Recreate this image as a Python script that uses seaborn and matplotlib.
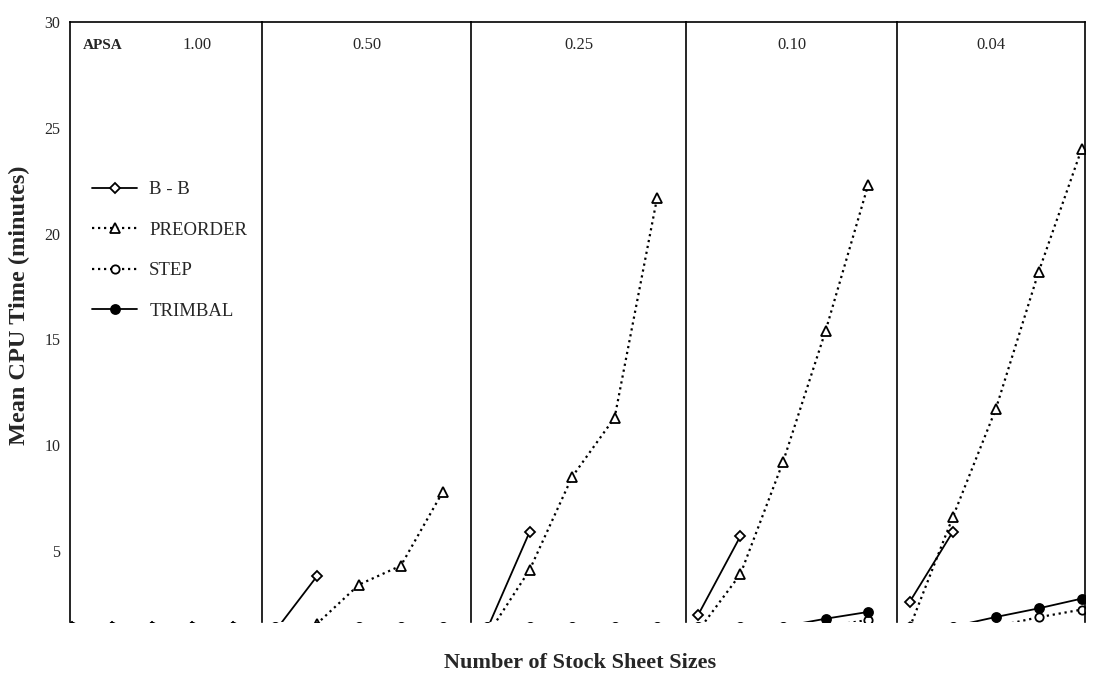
import numpy as np
import pandas as pd
import matplotlib
matplotlib.use("Agg")
import matplotlib.pyplot as plt
import seaborn as sns
from matplotlib.lines import Line2D

# --- data (minutes) ---
nan = np.nan
sheet_sizes = [1, 2, 3, 4, 5]
apsa_levels = ["1.00", "0.50", "0.25", "0.10", "0.04"]
series_names = ["B - B", "PREORDER", "STEP", "TRIMBAL"]

# one list per APSA panel, values below ~1.65 sit under the cut-off axis floor
bb_minutes = [
    [1.42, 1.42, 1.42, 1.42, 1.42],
    [1.2, 3.8, nan, nan, nan],
    [1.3, 5.9, nan, nan, nan],
    [1.95, 5.7, nan, nan, nan],
    [2.6, 5.9, nan, nan, nan],
]
preorder_minutes = [
    [1.42, 1.42, 1.42, 1.42, 1.42],
    [1.2, 1.55, 3.4, 4.3, 7.8],
    [1.0, 4.1, 8.5, 11.3, 21.7],
    [1.2, 3.9, 9.2, 15.4, 22.3],
    [1.4, 6.6, 11.7, 18.2, 24.0],
]
step_minutes = [
    [1.42, 1.42, 1.42, 1.42, 1.42],
    [1.42, 1.42, 1.42, 1.42, 1.42],
    [1.42, 1.42, 1.42, 1.42, 1.42],
    [1.42, 1.42, 1.42, 1.42, 1.73],
    [1.42, 1.42, 1.42, 1.86, 2.22],
]
trimbal_minutes = [
    [1.42, 1.42, 1.42, 1.42, 1.42],
    [1.42, 1.42, 1.42, 1.42, 1.42],
    [1.42, 1.42, 1.42, 1.42, 1.42],
    [1.42, 1.42, 1.42, 1.79, 2.11],
    [1.42, 1.42, 1.87, 2.28, 2.74],
]
y_ticks = [5, 10, 15, 20, 25, 30]

# --- layout / style ---
panel_widths = [192, 209, 215, 211, 188]
panel_xlims = [(0.95, 5.73), (0.69, 5.67), (0.62, 5.68), (0.72, 5.68), (0.70, 5.08)]
y_floor, y_top = 1.65, 30

estilos = {
    "B - B": dict(marker="D", linestyle="-", markerfacecolor="white", markersize=5.5, linewidth=1.3),
    "PREORDER": dict(marker="^", linestyle=(0, (1, 1.7)), markerfacecolor="white", markersize=6.5, linewidth=1.6),
    "STEP": dict(marker="o", linestyle=(0, (1, 1.7)), markerfacecolor="white", markersize=6, linewidth=1.6),
    "TRIMBAL": dict(marker="o", linestyle="-", markerfacecolor="black", markersize=6.5, linewidth=1.3),
}

sns.set_style("white")
plt.rcParams["font.family"] = ["Liberation Serif", "DejaVu Serif"]

# long table for seaborn
linhas = []
for nome, valores in zip(series_names, [bb_minutes, preorder_minutes, step_minutes, trimbal_minutes]):
    for apsa, painel in zip(apsa_levels, valores):
        for tam, v in zip(sheet_sizes, painel):
            linhas.append({"series": nome, "apsa": apsa, "size": tam, "minutes": v})
df = pd.DataFrame(linhas).dropna()

fig = plt.figure(figsize=(11, 6.75), dpi=100)
gs = fig.add_gridspec(1, 5, width_ratios=panel_widths, left=0.0636, right=0.9864,
                      bottom=0.079, top=0.967, wspace=0)
eixos = []
for i, apsa in enumerate(apsa_levels):
    ax = fig.add_subplot(gs[0, i], sharey=eixos[0] if eixos else None)
    eixos.append(ax)
    for nome in series_names:
        sub = df[(df["apsa"] == apsa) & (df["series"] == nome)]
        sns.lineplot(data=sub, x="size", y="minutes", ax=ax, color="black", legend=False,
                     markeredgecolor="black", markeredgewidth=1.3, **estilos[nome])
    ax.set_xlim(*panel_xlims[i])
    ax.set_ylim(y_floor, y_top)
    ax.set_xlabel("")
    ax.set_ylabel("")
    ax.set_xticks([])
    for lado in ["left", "top", "right"]:
        ax.spines[lado].set_linewidth(1.2)
        ax.spines[lado].set_color("black")
    ax.spines["bottom"].set_visible(False)
    if i < 4:
        ax.spines["right"].set_visible(False)
    if i == 0:
        ax.set_yticks(y_ticks)
        ax.tick_params(axis="y", direction="inout", length=6, width=1, labelsize=11.5, pad=4)
        ax.text(0.17, 0.962, "APSA", transform=ax.transAxes, ha="center", va="center",
                fontsize=11, fontweight="bold")
        ax.text(0.66, 0.962, apsa, transform=ax.transAxes, ha="center", va="center", fontsize=12)
    else:
        ax.tick_params(axis="y", left=False, labelleft=False)
        ax.text(0.5, 0.962, apsa, transform=ax.transAxes, ha="center", va="center", fontsize=12)

# legenda dentro do primeiro painel
handles = [Line2D([], [], color="black", markeredgecolor="black", markeredgewidth=1.3, **estilos[n])
           for n in series_names]
eixos[0].legend(handles, series_names, loc="upper left", bbox_to_anchor=(0.115, 0.735),
                frameon=False, fontsize=13.5, handlelength=2.4, handletextpad=0.65,
                labelspacing=1.25, borderpad=0, borderaxespad=0)

fig.text(0.018, 0.548, "Mean CPU Time (minutes)", rotation=90, ha="center", va="center",
         fontsize=17.5, fontweight="bold")
fig.text(0.527, 0.018, "Number of Stock Sheet Sizes", ha="center", va="center",
         fontsize=16, fontweight="bold")

fig.savefig("out.png", dpi=100)
plt.close(fig)
